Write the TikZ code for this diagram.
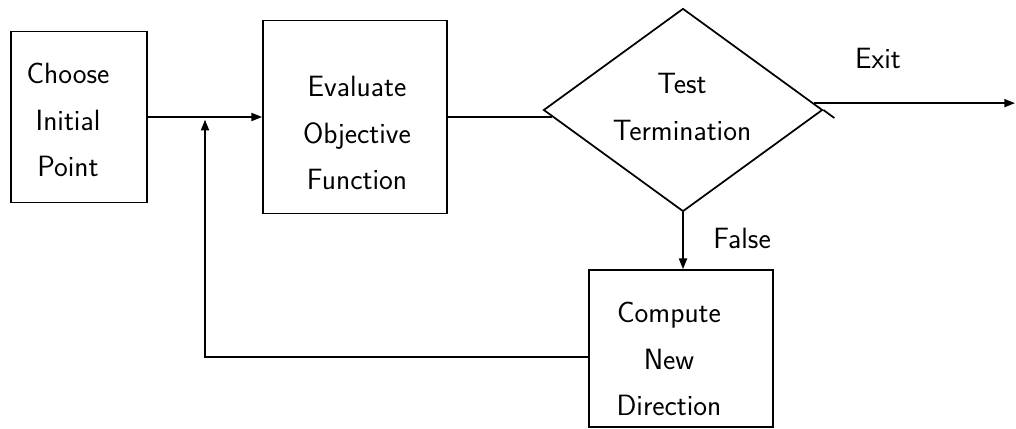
\documentclass[tikz,border=0pt]{standalone}
\usetikzlibrary{shapes.geometric,arrows.meta}
\begin{document}
\begin{tikzpicture}[x=0.75pt,y=-0.75pt, line width=1.3pt,
  box/.style={draw, rectangle, inner sep=0pt},
  decision/.style={draw, diamond, inner sep=0pt},
  lbl/.style={font=\sffamily\fontsize{22}{35}\selectfont, align=center, inner sep=0pt},
  flow/.style={-{Triangle[length=8pt,width=6pt]}}]
\useasboundingbox (0,0) rectangle (1016,428);

% process boxes and the decision diamond
\node[box, minimum width=102pt, minimum height=128.25pt] (choose) at (79,117) {};
\node[box, minimum width=138pt, minimum height=144.75pt] (eval) at (355,117) {};
\node[box, minimum width=138pt, minimum height=117.75pt] (comp) at (681,348.5) {};
\node[decision, minimum width=209.25pt, minimum height=152.25pt] (dia) at (683,110) {};

% box texts
\node[lbl] (tchoose) at (68,120) {Choose\\Initial\\Point};
\node[lbl] (teval) at (357,133) {Evaluate\\Objective\\Function};
\node[lbl] (ttest) at (682,107) {Test\\Termination};
\node[lbl] (tcomp) at (669,359) {Compute\\New\\Direction};

% edge labels
\node[lbl] (exitlbl) at (878,58) {Exit};
\node[lbl] (falselbl) at (742,238) {False};

% connectors
\coordinate (join) at (205,117);
\coordinate (exitend) at (1015,104);
\draw[flow] (choose.east) -- (eval.west);
\draw[flow, shorten >=2pt] ([yshift=-6.4pt]comp.west) -| (join);
\draw (eval.east) -- (dia.183.1 |- eval.east);
\draw[flow] (dia.3.08) -- (dia.3.08 -| exitend);
\draw (dia.east) -- ++(11,8);
\draw[flow] (dia.south) -- (dia.south |- comp.north);
\end{tikzpicture}
\end{document}
